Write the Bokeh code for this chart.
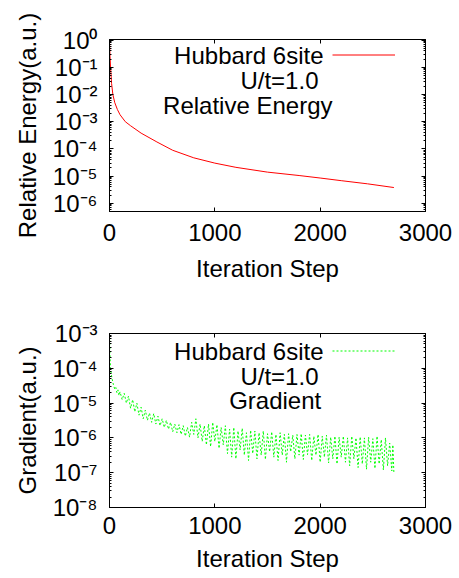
from bokeh.plotting import figure
from bokeh.layouts import column
from bokeh.models import Range1d, LogAxis, LinearAxis, FixedTicker, Label, Legend, LegendItem
from bokeh.embed import file_html
from bokeh.resources import INLINE

# ---------------- data ----------------
energy_step = [0, 5, 10, 20, 32, 50, 75, 100, 150, 200, 300, 450, 600, 800,
               1000, 1200, 1500, 1800, 2000, 2200, 2450, 2700]
energy_value = [0.9, 0.25, 0.1, 0.025, 0.01, 5.0e-3, 2.8e-3, 1.8e-3, 1.0e-3, 7.1e-4,
                3.8e-4, 1.8e-4, 8.9e-5, 4.7e-5, 3.0e-5, 2.1e-5, 1.4e-5, 1.05e-5,
                8.5e-6, 6.8e-6, 5.2e-6, 3.8e-6]

grad_step = [0, 2, 4, 6, 9, 12, 16, 20, 25, 30, 36, 42, 50, 60, 70, 80, 90,
             100, 120, 140, 160, 180, 200, 220, 240, 260, 280, 300, 320, 340, 360, 380,
             400, 420, 440, 460, 480, 500, 520, 540, 560, 580, 600, 620, 640, 660, 680,
             700, 720, 740, 760, 780, 800, 820, 840, 860, 880, 900, 920, 940, 960, 980,
             1000, 1020, 1040, 1060, 1080, 1100, 1120, 1140, 1160, 1180, 1200, 1220, 1240,
             1260, 1280, 1300, 1320, 1340, 1360, 1380, 1400, 1420, 1440, 1460, 1480, 1500,
             1520, 1540, 1560, 1580, 1600, 1620, 1640, 1660, 1680, 1700, 1720, 1740, 1760,
             1780, 1800, 1820, 1840, 1860, 1880, 1900, 1920, 1940, 1960, 1980, 2000, 2020,
             2040, 2060, 2080, 2100, 2120, 2140, 2160, 2180, 2200, 2220, 2240, 2260, 2280,
             2300, 2320, 2340, 2360, 2380, 2400, 2420, 2440, 2460, 2480, 2500, 2520, 2540,
             2560, 2580, 2600, 2620, 2640, 2660, 2680, 2690, 2700]
grad_value = [8.9e-4, 5.0e-4, 2.8e-4, 1.8e-4, 1.1e-4, 8.9e-5, 7.1e-5, 6.0e-5, 5.0e-5,
              4.2e-5, 3.5e-5, 3.0e-5, 2.5e-5, 2.8e-5, 2.0e-5, 2.4e-5, 1.66e-5,
              2.1e-5, 1.26e-5, 1.9e-5, 1.0e-5, 1.58e-5, 7.1e-6, 1.26e-5, 5.6e-6, 1.0e-5,
              4.5e-6, 7.6e-6, 3.55e-6, 6.3e-6, 3.2e-6, 5.2e-6,
              2.8e-6, 5.0e-6, 2.5e-6, 4.2e-6, 2.24e-6, 3.55e-6, 2.0e-6, 3.2e-6, 1.78e-6,
              2.8e-6, 1.5e-6, 2.5e-6, 1.41e-6, 2.4e-6, 1.26e-6,
              2.24e-6, 1.12e-6, 2.0e-6, 1.05e-6, 2.8e-6, 1.26e-6, 3.55e-6, 1.0e-6, 2.5e-6,
              7.9e-7, 2.24e-6, 6.3e-7, 2.5e-6, 5.6e-7, 2.8e-6,
              7.9e-7, 2.4e-6, 5.0e-7, 2.0e-6, 6.3e-7, 2.24e-6, 3.55e-7, 1.78e-6, 2.8e-7,
              2.0e-6, 2.5e-7, 1.58e-6, 4.5e-7,
              1.9e-6, 3.2e-7, 1.41e-6, 2.24e-7, 1.66e-6, 3.55e-7, 1.58e-6, 2.5e-7, 1.41e-6,
              3.2e-7, 1.58e-6, 2.4e-7, 1.32e-6,
              4.0e-7, 1.5e-6, 2.8e-7, 1.26e-6, 2.24e-7, 1.41e-6, 3.2e-7, 1.26e-6, 2.0e-7,
              1.32e-6, 4.0e-7, 1.2e-6, 2.5e-7,
              1.26e-6, 3.2e-7, 1.32e-6, 2.4e-7, 1.2e-6, 3.3e-7, 1.26e-6, 2.24e-7, 1.12e-6,
              3.2e-7, 1.26e-6, 2.0e-7, 1.12e-6,
              2.8e-7, 1.2e-6, 1.9e-7, 1.05e-6, 2.5e-7, 1.12e-6, 1.78e-7, 1.05e-6, 2.8e-7,
              1.12e-6, 2.0e-7, 1.0e-6, 1.58e-7,
              1.12e-6, 2.5e-7, 1.0e-6, 1.41e-7, 1.07e-6, 1.78e-7, 1.0e-6, 1.26e-7, 1.05e-6,
              2.0e-7, 9.5e-7, 1.32e-7, 1.12e-6,
              1.78e-7, 8.9e-7, 1.2e-7, 1.0e-6, 1.58e-7, 7.1e-7, 1.12e-7, 6.3e-7, 9.5e-8]

x_ticks = [0, 1000, 2000, 3000]
top_exponents = [-6, -5, -4, -3, -2, -1, 0]
bottom_exponents = [-8, -7, -6, -5, -4, -3]

FONT = "Liberation Sans"
SUP = {"-": "\u207b", "0": "\u2070", "1": "\u00b9", "2": "\u00b2", "3": "\u00b3",
       "4": "\u2074", "5": "\u2075", "6": "\u2076", "7": "\u2077", "8": "\u2078", "9": "\u2079"}


def sup_label(e):
    return "10" + "".join(SUP[c] for c in str(e))


def style_axis(ax):
    ax.axis_line_color = "black"
    ax.major_tick_in = 4
    ax.major_tick_out = 0
    ax.minor_tick_in = 2
    ax.minor_tick_out = 0
    ax.major_tick_line_color = "black"
    ax.minor_tick_line_color = "black"
    ax.major_label_text_font = FONT
    ax.major_label_text_font_size = "24px"
    ax.major_label_text_color = "black"
    ax.axis_label_text_font = FONT
    ax.axis_label_text_font_size = "24px"
    ax.axis_label_text_font_style = "normal"
    ax.axis_label_text_color = "black"


def mirror_axis(ax):
    style_axis(ax)
    ax.major_label_text_font_size = "2px"
    ax.major_label_text_color = None
    ax.major_label_standoff = 0


def make_panel(height, btop, bbot, yr, exps, ylabel, xs, ys, color, dash,
               texts, tick_standoff, label_standoff):
    p = figure(width=459, height=height, x_range=Range1d(0, 3000), y_range=Range1d(*yr),
               y_axis_type="log", output_backend="svg", toolbar_location=None,
               min_border_left=109, min_border_right=34, min_border_top=btop,
               min_border_bottom=bbot)
    p.grid.visible = False
    p.outline_line_color = "black"
    p.outline_line_width = 1
    p.background_fill_color = "white"
    p.border_fill_color = "white"

    yticks = [10.0 ** e for e in exps]
    yminor = [m * 10.0 ** e for e in range(exps[0] - 1, exps[-1] + 1) for m in range(2, 10)]

    xa = p.xaxis[0]
    xa.ticker = FixedTicker(ticks=x_ticks, minor_ticks=[])
    style_axis(xa)
    xa.axis_label = "Iteration Step"
    xa.major_label_standoff = tick_standoff
    xa.axis_label_standoff = label_standoff

    ya = p.yaxis[0]
    ya.ticker = FixedTicker(ticks=yticks, minor_ticks=yminor)
    style_axis(ya)
    ya.axis_label = ylabel
    ya.major_label_overrides = {t: sup_label(e) for t, e in zip(yticks, exps)}
    ya.major_label_standoff = 12
    ya.axis_label_standoff = 8

    top_ax = LinearAxis(ticker=FixedTicker(ticks=x_ticks, minor_ticks=[]))
    mirror_axis(top_ax)
    p.add_layout(top_ax, "above")
    right_ax = LogAxis(ticker=FixedTicker(ticks=yticks, minor_ticks=yminor))
    mirror_axis(right_ax)
    p.add_layout(right_ax, "right")

    if dash:
        r = p.line(xs, ys, line_color=color, line_width=1, line_dash=dash)
    else:
        r = p.line(xs, ys, line_color=color, line_width=1)

    for (tx, ty, t) in texts:
        p.add_layout(Label(x=tx, y=ty, text=t, text_font=FONT, text_font_size="24px",
                           text_align="right", text_baseline="middle", text_color="black"))

    leg = Legend(items=[LegendItem(label=" ", renderers=[r])], location=(223, 151),
                 glyph_width=63, glyph_height=11, label_width=0, label_height=11,
                 label_standoff=0, padding=0, margin=0, spacing=0,
                 border_line_color=None, background_fill_alpha=0,
                 label_text_font_size="10px")
    p.add_layout(leg)
    return p


p1 = make_panel(289, 39, 78, (5e-7, 1.05), top_exponents, "Relative Energy(a.u.)",
                energy_step, energy_value, "#ff0000", None,
                [(2032, 0.271, "Hubbard 6site"), (1984, 0.0327, "U/t=1.0"),
                 (2117, 3.94e-3, "Relative Energy")], 12, 11)
p2 = make_panel(289, 44, 71, (1e-8, 1e-3), bottom_exponents, "Gradient(a.u.)",
                grad_step, grad_value, "#00ff00", "2 2",
                [(2032, 3.04e-4, "Hubbard 6site"), (1984, 5.8e-5, "U/t=1.0"),
                 (2010, 1.19e-5, "Gradient")], 9, 8)

layout = column(p1, p2, spacing=0)
open("out.html", "w").write(file_html(layout, INLINE))
